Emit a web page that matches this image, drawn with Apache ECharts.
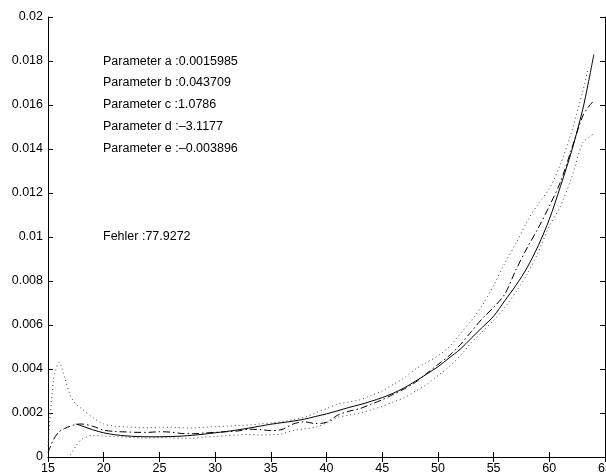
<!DOCTYPE html>
<html>
<head>
<meta charset="utf-8">
<script src="https://cdn.jsdelivr.net/npm/echarts@6/dist/echarts.min.js"></script>
<style>
  html, body { margin: 0; padding: 0; background: #fff; }
  #chart { width: 606px; height: 475px; }
</style>
</head>
<body>
<div id="chart"></div>
<script>
const xs = [15, 15.5, 16, 16.5, 17, 17.5, 18, 19, 20, 21, 22, 23, 24, 25, 26, 27, 28, 29, 30,
  31, 32, 33, 34, 35, 36, 37, 38, 39, 40, 41, 42, 43, 44, 45, 46, 47, 48, 49, 50,
  51, 52, 53, 54, 55, 56, 57, 58, 59, 60, 61, 62, 63, 63.5, 64]

// fitted model (solid)
const fit = [null, null, null, null, null, 0.0015, 0.00142, 0.00124, 0.0011, 0.00101, 0.00096, 0.00093, 0.00092, 0.00092, 0.00093, 0.00095, 0.00099, 0.00104, 0.0011,
  0.00116, 0.00123, 0.00131, 0.0014, 0.00149, 0.00156, 0.00163, 0.00172, 0.00184, 0.00196, 0.0021, 0.00225, 0.00238, 0.00253, 0.0027, 0.0029, 0.00315, 0.00345, 0.00377, 0.0041,
  0.0045, 0.0049, 0.0054, 0.0059, 0.0064, 0.0071, 0.0078, 0.0086, 0.0096, 0.0108, 0.0123, 0.0139, 0.0158, 0.017, 0.0183]

// measured (dash-dot)
const measured = [0.0002, 0.0008, 0.00115, 0.0013, 0.0014, 0.00148, 0.0015, 0.0014, 0.00122, 0.00116, 0.00114, 0.00112, 0.00112, 0.00115, 0.00113, 0.00107, 0.00106, 0.00109, 0.00112,
  0.00115, 0.00118, 0.00126, 0.00125, 0.0012, 0.00125, 0.0015, 0.0016, 0.00152, 0.00158, 0.0019, 0.00208, 0.0022, 0.0024, 0.0026, 0.00285, 0.0031, 0.0034, 0.0038, 0.0042,
  0.0046, 0.0051, 0.0057, 0.0063, 0.0068, 0.0074, 0.0085, 0.0095, 0.0104, 0.0114, 0.0125, 0.014, 0.0155, 0.0159, 0.0162]

// upper / lower band (dotted)
const upper = [0.0005, 0.0035, 0.0043, 0.0036, 0.0028, 0.0024, 0.0022, 0.0018, 0.0015, 0.0014, 0.00137, 0.00135, 0.00133, 0.00135, 0.00135, 0.00133, 0.00132, 0.00135, 0.00138,
  0.0014, 0.00143, 0.00145, 0.0015, 0.00155, 0.0016, 0.0017, 0.0018, 0.002, 0.0022, 0.0024, 0.0025, 0.0026, 0.0028, 0.003, 0.0033, 0.0036, 0.004, 0.0043, 0.0046,
  0.005, 0.0056, 0.0062, 0.0069, 0.0078, 0.0088, 0.0097, 0.0107, 0.0115, 0.0122, 0.0133, 0.0148, 0.0166, 0.0177, null]

const lower = [null, null, null, null, 0.0001, 0.0005, 0.0008, 0.00098, 0.00095, 0.00092, 0.0009, 0.00087, 0.00087, 0.00088, 0.00087, 0.00085, 0.00085, 0.0009, 0.00093,
  0.00097, 0.001, 0.00102, 0.001, 0.00101, 0.00105, 0.0012, 0.00128, 0.00135, 0.00155, 0.0018, 0.0019, 0.002, 0.00214, 0.0023, 0.0025, 0.0027, 0.003, 0.0033, 0.0037,
  0.0041, 0.0046, 0.0052, 0.0057, 0.0062, 0.0068, 0.0075, 0.0083, 0.0093, 0.0105, 0.0114, 0.0127, 0.0143, 0.0145, 0.0147]

const paramLines = [
  'Parameter a :0.0015985',
  'Parameter b :0.043709',
  'Parameter c :1.0786',
  'Parameter d :\u20133.1177',
  'Parameter e :\u20130.003896',
]
const errorLine = 'Fehler :77.9272'

const FONT = 'Liberation Sans, Arial, Helvetica, sans-serif'

function pairs(vals) {
  return xs.map((x, i) => [x, vals[i]]).filter(p => p[1] !== null)
}

function lineSeries(vals, type, width, color) {
  return {
    type: 'line',
    data: pairs(vals),
    showSymbol: false,
    smooth: 0.3,
    silent: true,
    lineStyle: { color: color || '#000', width: width, type: type },
  }
}

const axisBase = {
  axisLine: { lineStyle: { color: '#000', width: 1 } },
  axisTick: { inside: true, length: 5, lineStyle: { color: '#000' } },
  splitLine: { show: false },
  axisLabel: { color: '#000', fontSize: 12.5, fontFamily: FONT, margin: 5 },
}

const chart = echarts.init(document.getElementById('chart'))

const textItems = paramLines.map((t, i) => ({
  type: 'text',
  left: 103,
  top: [55, 76, 98, 120, 142][i],
  style: { text: t, fill: '#000', font: '12.5px ' + FONT },
}))
textItems.push({
  type: 'text',
  left: 103,
  top: 230,
  style: { text: errorLine, fill: '#000', font: '12.5px ' + FONT },
})

chart.setOption({
  animation: false,
  backgroundColor: '#fff',
  grid: { left: 48, right: 1, top: 17, bottom: 18, containLabel: false, outerBoundsMode: 'none' },
  xAxis: [
    { ...axisBase, type: 'value', min: 15, max: 65, interval: 5, position: 'bottom' },
    { ...axisBase, type: 'value', min: 15, max: 65, interval: 5, position: 'top',
      axisLabel: { show: false } },
  ],
  yAxis: [
    { ...axisBase, type: 'value', min: 0, max: 0.02, interval: 0.002, position: 'left' },
    { ...axisBase, type: 'value', min: 0, max: 0.02, interval: 0.002, position: 'right',
      axisLabel: { show: false } },
  ],
  graphic: textItems,
  series: [
    lineSeries(upper, [1, 3], 1, '#444'),
    lineSeries(lower, [1, 3], 1, '#444'),
    lineSeries(measured, [7, 3, 1.5, 3], 1),
    lineSeries(fit, 'solid', 1),
  ],
})
</script>
</body>
</html>
